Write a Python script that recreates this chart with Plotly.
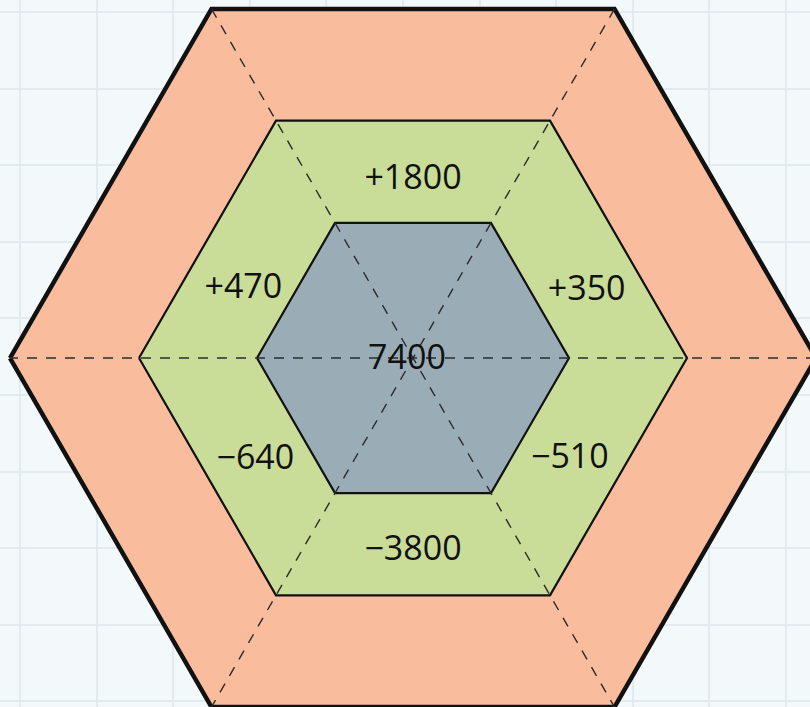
import numpy as np
import plotly.graph_objects as go

# hexagon rings, outer -> inner
ring_radii = [403, 274, 156]
ring_colors = ['#f9bc9d', '#c9dc98', '#9aadb7']
ring_widths = [4.5, 2.2, 2.2]

center_value = '7400'
# side labels starting from top, going clockwise
side_values = ['+1800', '+350', '\u2212510', '\u22123800', '\u2212640', '+470']
# where each label sits inside the middle ring (angle in degrees, distance from centre)
label_angles = [90, 21, -33, -90, -147, 158]
label_dist = [178, 186, 187, 193, 188, 183]

cx, cy = 413, 358
W, H = 810, 707


def hexagon(r):
    ang = np.radians([180, 120, 60, 0, -60, -120, 180])
    return cx + r * np.cos(ang), cy - r * np.sin(ang)


fig = go.Figure()

for r, c, w in zip(ring_radii, ring_colors, ring_widths):
    x, y = hexagon(r)
    fig.add_trace(go.Scatter(x=x, y=y, mode='lines', fill='toself', fillcolor=c,
                             line=dict(color='#111111', width=w), hoverinfo='skip'))

# dashed diagonals through the centre
R = ring_radii[0]
for a in [0, 60, 120]:
    t = np.radians([a, a + 180])
    fig.add_trace(go.Scatter(x=cx + R * np.cos(t), y=cy - R * np.sin(t), mode='lines',
                             line=dict(color='#2b2b2b', width=1.4, dash='10px,9px'),
                             hoverinfo='skip'))

a = np.radians(label_angles)
d = np.array(label_dist)
font = dict(size=34, color='#111111', family='Open Sans')
fig.add_trace(go.Scatter(x=cx + d * np.cos(a), y=cy - d * np.sin(a), mode='text',
                         text=side_values, textfont=font, hoverinfo='skip'))
fig.add_trace(go.Scatter(x=[cx - 6], y=[cy + 2], mode='text', text=[center_value],
                         textfont=font, hoverinfo='skip'))

axis = dict(showgrid=True, gridcolor='#e2ecf0', gridwidth=1.5, zeroline=False,
            showticklabels=False, ticks='', dtick=76.6)
fig.update_xaxes(axis, range=[0, W], tick0=20)
fig.update_yaxes(axis, range=[H, 0], tick0=12)
fig.update_layout(width=W, height=H, margin=dict(l=0, r=0, t=0, b=0),
                  showlegend=False, plot_bgcolor='#f3f9fb', paper_bgcolor='#f3f9fb')

fig.write_html("out.html", config={'displayModeBar': False},
               post_script="document.body.style.margin='0';")
